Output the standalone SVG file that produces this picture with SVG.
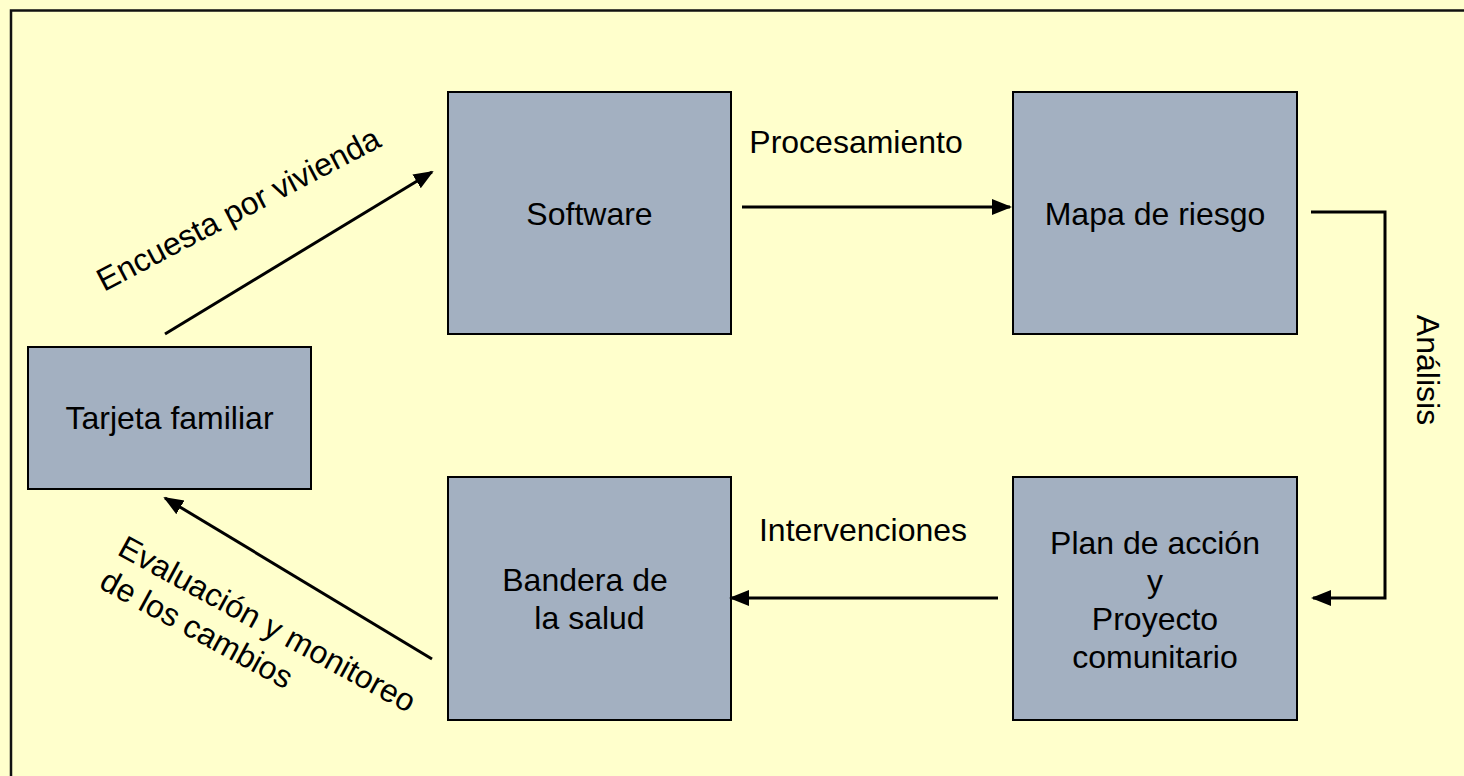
<svg xmlns="http://www.w3.org/2000/svg" width="1464" height="776" viewBox="0 0 1464 776">
<style>
.node rect{fill:#A3B0C1;stroke:#000;stroke-width:2}
text{font-family:"Liberation Sans",Arial,sans-serif;font-size:32px;fill:#000}
.c{text-anchor:middle}
.conn line,.conn path{stroke:#000;stroke-width:3;fill:none}
</style>
<defs>
<marker id="ah" markerUnits="userSpaceOnUse" markerWidth="20" markerHeight="20" viewBox="0 0 20 20" refX="18" refY="10" orient="auto">
<path d="M0,2 L20,10 L0,18 Z" fill="#000"/>
</marker>
</defs>
<rect x="0" y="0" width="1464" height="776" fill="#FFFFCC"/>
<rect x="11" y="10.5" width="1500" height="800" fill="none" stroke="#111" stroke-width="2.5"/>
<g id="software" class="node"><rect x="448" y="92" width="283" height="242"/><text class="c" x="589.5" y="225">Software</text></g>
<g id="mapa" class="node"><rect x="1013" y="92" width="284" height="242"/><text class="c" x="1155" y="225">Mapa de riesgo</text></g>
<g id="tarjeta" class="node"><rect x="28" y="347" width="283" height="142"/><text class="c" x="169.5" y="429">Tarjeta familiar</text></g>
<g id="bandera" class="node"><rect x="448" y="477" width="283" height="243"/><text class="c" x="585" y="591">Bandera de<tspan x="589.5" dy="38">la salud</tspan></text></g>
<g id="plan" class="node"><rect x="1013" y="477" width="284" height="243"/><text class="c" x="1155" y="554">Plan de acción<tspan x="1155" dy="38">y</tspan><tspan x="1155" dy="38">Proyecto</tspan><tspan x="1155" dy="38">comunitario</tspan></text></g>
<g id="connectors" class="conn">
<line x1="165" y1="334" x2="432" y2="172" marker-end="url(#ah)"/>
<line x1="742" y1="207" x2="1010" y2="207" marker-end="url(#ah)"/>
<path d="M1311,212 H1385 V598 H1313" marker-end="url(#ah)"/>
<line x1="998" y1="598" x2="731" y2="598" marker-end="url(#ah)"/>
<line x1="432" y1="659" x2="165" y2="498" marker-end="url(#ah)"/>
</g>
<g id="labels">
<text class="c" x="856" y="153">Procesamiento</text>
<text class="c" x="863" y="541">Intervenciones</text>
<text class="c" transform="rotate(90 1417 370)" x="1417" y="370">Análisis</text>
<text transform="rotate(-27.7 104 292)" x="104" y="292">Encuesta por vivienda</text>
<text transform="rotate(28.6 116 554)" x="116" y="554">Evaluación y monitoreo<tspan x="116" dy="38">de los cambios</tspan></text>
</g>
</svg>
